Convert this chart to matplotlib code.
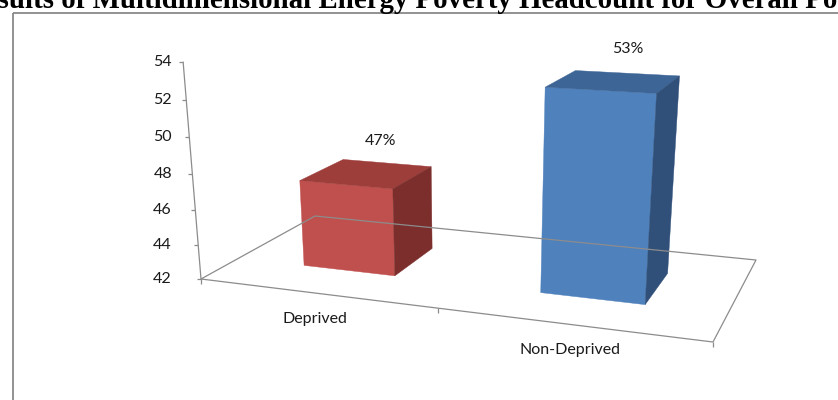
import numpy as np
import matplotlib.pyplot as plt
from matplotlib.patches import Polygon, Rectangle

categories = ['Deprived', 'Non-Deprived']
values = [47, 53]
value_labels = ['47%', '53%']
yticks = [42, 44, 46, 48, 50, 52, 54]
title = 'Results of Multidimensional Energy Poverty Headcount for Overall Po'

zmin, zmax = yticks[0], yticks[-1]

# perspective camera: world (category, depth, value) -> pixel
P = np.array([[206.7698, 168.9557, -2.441281, 303.5338],
              [7.886057, -25.31608, -18.42895, 1053.016],
              [-0.06904662, 0.1744626, -0.005191164, 1.218029]])


def proj(x, y, z):
    p = P @ [x, y, z, 1]
    return p[0] / p[2], p[1] / p[2]


bar_w = 0.4
depth = (0.3, 0.7)
faces = [('#c0504d', '#9d3e3b', '#7b2e2c'),
         ('#4f81bd', '#3d6596', '#30507a')]
fs = 11.5

plt.rcParams['font.family'] = ['Lato', 'DejaVu Sans']
fig = plt.figure(figsize=(8.38, 4.0), dpi=100)
ax = fig.add_axes([0, 0, 1, 1])
ax.set_xlim(0, 838)
ax.set_ylim(400, 0)
ax.axis('off')

# frame round the chart
ax.add_patch(Rectangle((12.5, 12.5), 1000, 1000, fill=False, ec='#7f7f7f', lw=1.2))

# title, running off the page at both ends
tkw = dict(fontsize=20.8, family='Liberation Serif', weight='bold')
t = ax.text(0, 8, 'Re', **tkw)
fig.canvas.draw()
bb = t.get_window_extent()
t.remove()
ax.text(-2 - bb.width, 8, title, va='baseline', ha='left', color='black', **tkw)

line_kw = dict(color='#8c8c8c', lw=0.9, solid_capstyle='butt')
n = len(categories)

# floor outline
corners = [(0, 0), (n, 0), (n, 1), (0, 1), (0, 0)]
ax.plot(*zip(*[proj(x, y, zmin) for x, y in corners]), **line_kw)

# value axis with ticks
ax.plot(*zip(proj(0, 0, zmin), proj(0, 0, zmax)), **line_kw)
for v in yticks:
    px, py = proj(0, 0, v)
    ax.plot([px - 4, px], [py, py], **line_kw)
    ax.text(172, py, str(v), ha='right', va='center', fontsize=fs, color='#1a1a1a')

# category ticks and labels
for i in range(n + 1):
    px, py = proj(i, 0, zmin)
    ax.plot([px, px], [py, py + 5], **line_kw)
for i, name in enumerate(categories):
    px, py = proj(i + 0.5, 0, zmin)
    ax.text(px, py + 26, name, ha='center', va='center', fontsize=fs, color='#1a1a1a')

# bars
for i, v in enumerate(values):
    x0, x1 = i + 0.5 - bar_w / 2, i + 0.5 + bar_w / 2
    y0, y1 = depth
    z0, z1 = zmin, v
    front = [(x0, y0, z0), (x1, y0, z0), (x1, y0, z1), (x0, y0, z1)]
    top = [(x0, y0, z1), (x1, y0, z1), (x1, y1, z1), (x0, y1, z1)]
    side = [(x1, y0, z0), (x1, y1, z0), (x1, y1, z1), (x1, y0, z1)]
    for pts, c in zip((front, top, side), faces[i]):
        ax.add_patch(Polygon([proj(*p) for p in pts], closed=True, fc=c, ec=c, lw=0.3))
    px, py = proj(i + 0.5, sum(depth) / 2, v)
    ax.text(px + 14, py - 32, value_labels[i], ha='center', va='center',
            fontsize=fs, color='#1a1a1a')

fig.savefig('out.png', dpi=100)
